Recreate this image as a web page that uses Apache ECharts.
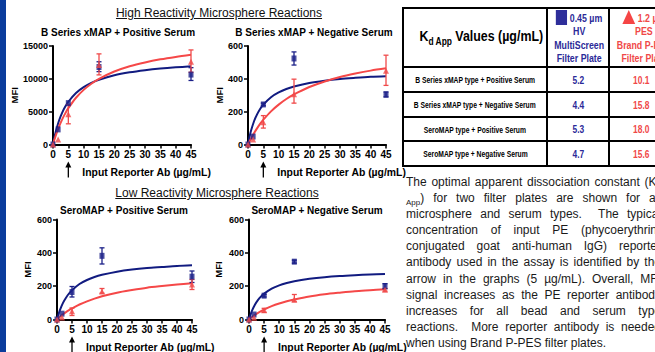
<!DOCTYPE html>
<html>
<head>
<meta charset="utf-8">
<script src="https://cdn.jsdelivr.net/npm/echarts@6/dist/echarts.min.js"></script>
<style>
body{margin:0;width:655px;height:352px;overflow:hidden;position:relative;background:#fff;font-family:"Liberation Sans",Arial,sans-serif;}
#main{position:absolute;left:0;top:0;width:655px;height:352px;}
.bar{position:absolute;left:0;top:0;width:6px;height:352px;background:#0b3c9c;}
.head{position:absolute;font-size:12px;line-height:14px;color:#111;text-decoration:underline;white-space:nowrap;transform:translateX(-50%);}
#kd{position:absolute;left:402px;top:7px;border-collapse:collapse;table-layout:fixed;width:270px;}
#kd td{border:2px solid #000;text-align:center;padding:0;overflow:visible;white-space:nowrap;}
#kd .s{display:inline-block;transform:scaleX(.8);transform-origin:center;}
#kd .k{font-size:15.5px;font-weight:bold;}
#kd .k sub{font-size:10.5px;}
#kd .hd{font-size:11px;font-weight:bold;line-height:13.5px;}
#kd .lab{font-size:9.4px;font-weight:bold;}
#kd .lab .s{transform:scaleX(.72);margin:0 -40px;}
#kd .v{font-size:10.5px;font-weight:bold;}
.hv{color:#2b2a98;}
.pes{color:#f04848;}
.sqr{display:inline-block;width:14px;height:15px;background:#2e2e9a;vertical-align:-3px;}
.tri{display:inline-block;width:0;height:0;border-left:8px solid transparent;border-right:8px solid transparent;border-bottom:14px solid #f54545;vertical-align:-2px;}
#para{position:absolute;left:406px;top:174px;width:255px;font-size:12px;line-height:16.1px;color:#1a1a1a;}
#para .ln{text-align:justify;text-align-last:justify;height:16.1px;}
#para .last{text-align:left;text-align-last:left;}
#para sub{font-size:8px;line-height:0;vertical-align:-3px;}
</style>
</head>
<body>
<div id="main"></div>
<div class="bar"></div>
<div class="head" style="left:219px;top:6px;">High Reactivity Microsphere Reactions</div>
<div class="head" style="left:217px;top:186px;">Low Reactivity Microsphere Reactions</div>
<table id="kd"></table>
<div id="para">
<div class="ln">The optimal apparent dissociation constant (K<sub>d</sub></div>
<div class="ln"><sub>App</sub>) for two filter plates are shown for all</div>
<div class="ln">microsphere and serum types.&nbsp; The typical</div>
<div class="ln">concentration of input PE (phycoerythrin-</div>
<div class="ln">conjugated goat anti-human IgG) reporter</div>
<div class="ln">antibody used in the assay is identified by the</div>
<div class="ln">arrow in the graphs (5 µg/mL). Overall, MFI</div>
<div class="ln">signal increases as the PE reporter antibody</div>
<div class="ln">increases for all bead and serum type</div>
<div class="ln">reactions.&nbsp; More reporter antibody is needed</div>
<div class="ln last">when using Brand P-PES filter plates.</div>
</div>
<script>
// x positions
var curveX = [0, 0.5, 1, 2, 3, 4, 5, 7.5, 10, 12.5, 15, 20, 25, 30, 35, 40, 45];
var pointX = [0, 1.67, 5, 15, 45];

// B Series xMAP + Positive Serum
var hiPosHVFit  = [0,1160,2140,3690,4860,5770,6510,7840,8730,9380,9860,10540,10990,11310,11560,11750,11900];
var hiPosPESFit = [0,790,1510,2760,3830,4740,5530,7120,8320,9250,9990,11110,11910,12500,12970,13340,13650];
var hiPosHV  = [0, 2300, 6300, 11800, 10650];
var hiPosPES = [0, 750, 4600, 12100, 12600];
var hiPosHVErr  = [[15,11100,12600],[45,9750,11700]];
var hiPosPESErr = [[5,3150,6100],[15,10600,13800],[45,11000,14400]];

// B Series xMAP + Negative Serum
var hiNegHVFit  = [0,47,85,143,185,218,243,288,317,338,353,375,389,399,406,412,416];
var hiNegPESFit = [0,19,37,70,100,127,151,202,243,277,305,350,384,411,432,450,464];
var hiNegHV  = [0, 48, 244, 524, 304];
var hiNegPES = [0, 30, 136, 306, 450];
var hiNegHVErr  = [[5,236,252],[15,484,564],[45,290,320]];
var hiNegPESErr = [[5,100,176],[15,252,398],[45,360,544]];

// SeroMAP + Positive Serum
var loPosHVFit  = [0,31,58,100,131,156,176,213,237,255,268,287,300,309,315,321,325];
var loPosPESFit = [0,8,16,31,44,56,66,90,109,125,139,161,177,191,201,210,218];
var loPosHV  = [0, 35, 165, 382, 257];
var loPosPES = [0, 12, 50, 168, 210];
var loPosHVErr  = [[5,135,198],[15,333,430],[45,222,291]];
var loPosPESErr = [[5,24,69],[15,158,186],[45,180,240]];

// SeroMAP + Negative Serum
var loNegHVFit  = [0,29,53,90,118,139,155,185,205,219,230,244,254,261,266,270,273];
var loNegPESFit = [0,8,15,28,40,50,60,80,96,109,120,138,151,161,170,176,182];
var loNegHV  = [0, 30, 143, 347, 200];
var loNegPES = [0, 10, 55, 120, 178];
var loNegHVErr  = [[5,135,150],[15,338,356],[45,185,215]];
var loNegPESErr = [[5,43,67],[15,106,150],[45,170,186]];

// table
var rowLabels = ['B Series xMAP type + Positive Serum','B Series xMAP type + Negative Serum','SeroMAP type + Positive Serum','SeroMAP type + Negative Serum'];
var kdHV  = ['5.2','4.4','5.3','4.7'];
var kdPES = ['10.1','15.8','18.0','15.6'];

var BLUE = '#1b2088', BLUE_LINE = '#111b80', RED = '#f04a4a', RED_LINE = '#f54848';
var FONT = '"Liberation Sans", Arial, sans-serif';

// build table
var html = '<colgroup><col style="width:144px"><col style="width:62px"><col style="width:64px"></colgroup>';
html += '<tr style="height:59px"><td><span class="s k">K<sub>d App</sub> Values (µg/mL)</span></td>'
  + '<td class="hd hv"><span class="s"><i class="sqr"></i> 0.45 µm<br>HV<br>MultiScreen<br>Filter Plate</span></td>'
  + '<td class="hd pes"><span class="s"><i class="tri"></i> 1.2 µm<br>PES<br>Brand P-PES<br>Filter Plate</span></td></tr>';
var rh = [25, 25, 24, 25];
for (var r = 0; r < rowLabels.length; r++) {
  html += '<tr style="height:' + rh[r] + 'px"><td class="lab"><span class="s">' + rowLabels[r] + '</span></td>'
    + '<td class="v hv"><span class="s">' + kdHV[r] + '</span></td>'
    + '<td class="v pes"><span class="s">' + kdPES[r] + '</span></td></tr>';
}
document.getElementById('kd').innerHTML = html;

var panels = [
  {title:'B Series xMAP + Positive Serum', tx:118, ty:27, yMax:15000, yStep:5000, gap:33,
   grid:{left:53, top:46, width:138, height:98.5},
   hvFit:hiPosHVFit, pesFit:hiPosPESFit, hv:hiPosHV, pes:hiPosPES, hvErr:hiPosHVErr, pesErr:hiPosPESErr},
  {title:'B Series xMAP + Negative Serum', tx:314, ty:27, yMax:600, yStep:200, gap:23,
   grid:{left:248, top:46, width:138, height:98.5},
   hvFit:hiNegHVFit, pesFit:hiNegPESFit, hv:hiNegHV, pes:hiNegPES, hvErr:hiNegHVErr, pesErr:hiNegPESErr},
  {title:'SeroMAP + Positive Serum', tx:124, ty:205.5, yMax:600, yStep:200, gap:25,
   grid:{left:57, top:219.5, width:135, height:100},
   hvFit:loPosHVFit, pesFit:loPosPESFit, hv:loPosHV, pes:loPosPES, hvErr:loPosHVErr, pesErr:loPosPESErr},
  {title:'SeroMAP + Negative Serum', tx:317, ty:205.5, yMax:600, yStep:200, gap:26,
   grid:{left:249, top:219.5, width:136, height:100},
   hvFit:loNegHVFit, pesFit:loNegPESFit, hv:loNegHV, pes:loNegPES, hvErr:loNegHVErr, pesErr:loNegPESErr}
];

function pairs(xs, ys) { return xs.map(function (x, i) { return [x, ys[i]]; }); }

function errBar(color) {
  return function (params, api) {
    var x = api.value(0);
    var lo = api.coord([x, api.value(1)]);
    var hi = api.coord([x, api.value(2)]);
    var st = {stroke: color, lineWidth: 1.3};
    return {type:'group', children:[
      {type:'line', shape:{x1:lo[0], y1:lo[1], x2:hi[0], y2:hi[1]}, style:st},
      {type:'line', shape:{x1:lo[0]-2.5, y1:lo[1], x2:lo[0]+2.5, y2:lo[1]}, style:st},
      {type:'line', shape:{x1:hi[0]-2.5, y1:hi[1], x2:hi[0]+2.5, y2:hi[1]}, style:st}
    ]};
  };
}

var grids = [], xAxes = [], yAxes = [], series = [], titles = [];
panels.forEach(function (p, i) {
  grids.push(Object.assign({containLabel:false, outerBoundsMode:'none'}, p.grid));
  titles.push({text:p.title, left:p.tx, top:p.ty, textAlign:'center', padding:0,
    textStyle:{fontSize:10, fontWeight:'bold', color:'#000', fontFamily:FONT}});
  xAxes.push({gridIndex:i, type:'value', min:0, max:45, interval:5,
    axisLine:{show:true, onZero:false, lineStyle:{color:'#000', width:2}},
    axisTick:{show:true, length:4, lineStyle:{color:'#000', width:1.5}},
    axisLabel:{color:'#000', fontWeight:'bold', fontSize:10, margin:5, fontFamily:FONT},
    splitLine:{show:false}});
  yAxes.push({gridIndex:i, type:'value', min:0, max:p.yMax, interval:p.yStep,
    name:'MFI', nameLocation:'middle', nameRotate:90, nameGap:p.gap,
    nameTextStyle:{fontWeight:'bold', fontSize:9.5, color:'#000', fontFamily:FONT},
    axisLine:{show:true, onZero:false, lineStyle:{color:'#000', width:2}},
    axisTick:{show:true, length:4, lineStyle:{color:'#000', width:1.5}},
    axisLabel:{color:'#000', fontWeight:'bold', fontSize:9, margin:5, fontFamily:FONT,
      formatter:function (v) { return String(v); }},
    splitLine:{show:false}});
  series.push(
    {type:'line', xAxisIndex:i, yAxisIndex:i, data:pairs(curveX, p.hvFit), smooth:0.3, showSymbol:false,
     lineStyle:{color:BLUE_LINE, width:2}, itemStyle:{color:BLUE_LINE}, z:2},
    {type:'line', xAxisIndex:i, yAxisIndex:i, data:pairs(curveX, p.pesFit), smooth:0.3, showSymbol:false,
     lineStyle:{color:RED_LINE, width:2}, itemStyle:{color:RED_LINE}, z:3},
    {type:'custom', xAxisIndex:i, yAxisIndex:i, data:p.hvErr, encode:{x:0, y:[1,2]}, renderItem:errBar(BLUE), z:4},
    {type:'custom', xAxisIndex:i, yAxisIndex:i, data:p.pesErr, encode:{x:0, y:[1,2]}, renderItem:errBar(RED), z:4},
    {type:'scatter', xAxisIndex:i, yAxisIndex:i, data:pairs(pointX, p.hv), symbol:'rect', symbolSize:[5,6],
     itemStyle:{color:BLUE}, z:5},
    {type:'scatter', xAxisIndex:i, yAxisIndex:i, data:pairs(pointX, p.pes), symbol:'triangle', symbolSize:6,
     itemStyle:{color:RED}, z:5}
  );
});

var chart = echarts.init(document.getElementById('main'), null, {renderer:'svg'});
chart.setOption({
  animation:false,
  backgroundColor:'transparent',
  title:titles, grid:grids, xAxis:xAxes, yAxis:yAxes, series:series
});

// arrow at 5 µg/mL and x axis titles
var graphics = [];
panels.forEach(function (p, i) {
  var pt = chart.convertToPixel({gridIndex:i}, [5, 0]);
  var ax = pt[0], ay = pt[1];
  graphics.push(
    {type:'line', shape:{x1:ax, y1:ay+33, x2:ax, y2:ay+21}, style:{stroke:'#000', lineWidth:1.3}},
    {type:'polygon', shape:{points:[[ax-3, ay+23], [ax+3, ay+23], [ax, ay+17]]}, style:{fill:'#000'}},
    {type:'text', x:ax+14, y:ay+27.5, style:{text:'Input Reporter Ab (µg/mL)', fill:'#000',
      font:'bold 10.4px ' + FONT, align:'left', verticalAlign:'middle'}}
  );
});
chart.setOption({graphic:graphics});
</script>
</body>
</html>
